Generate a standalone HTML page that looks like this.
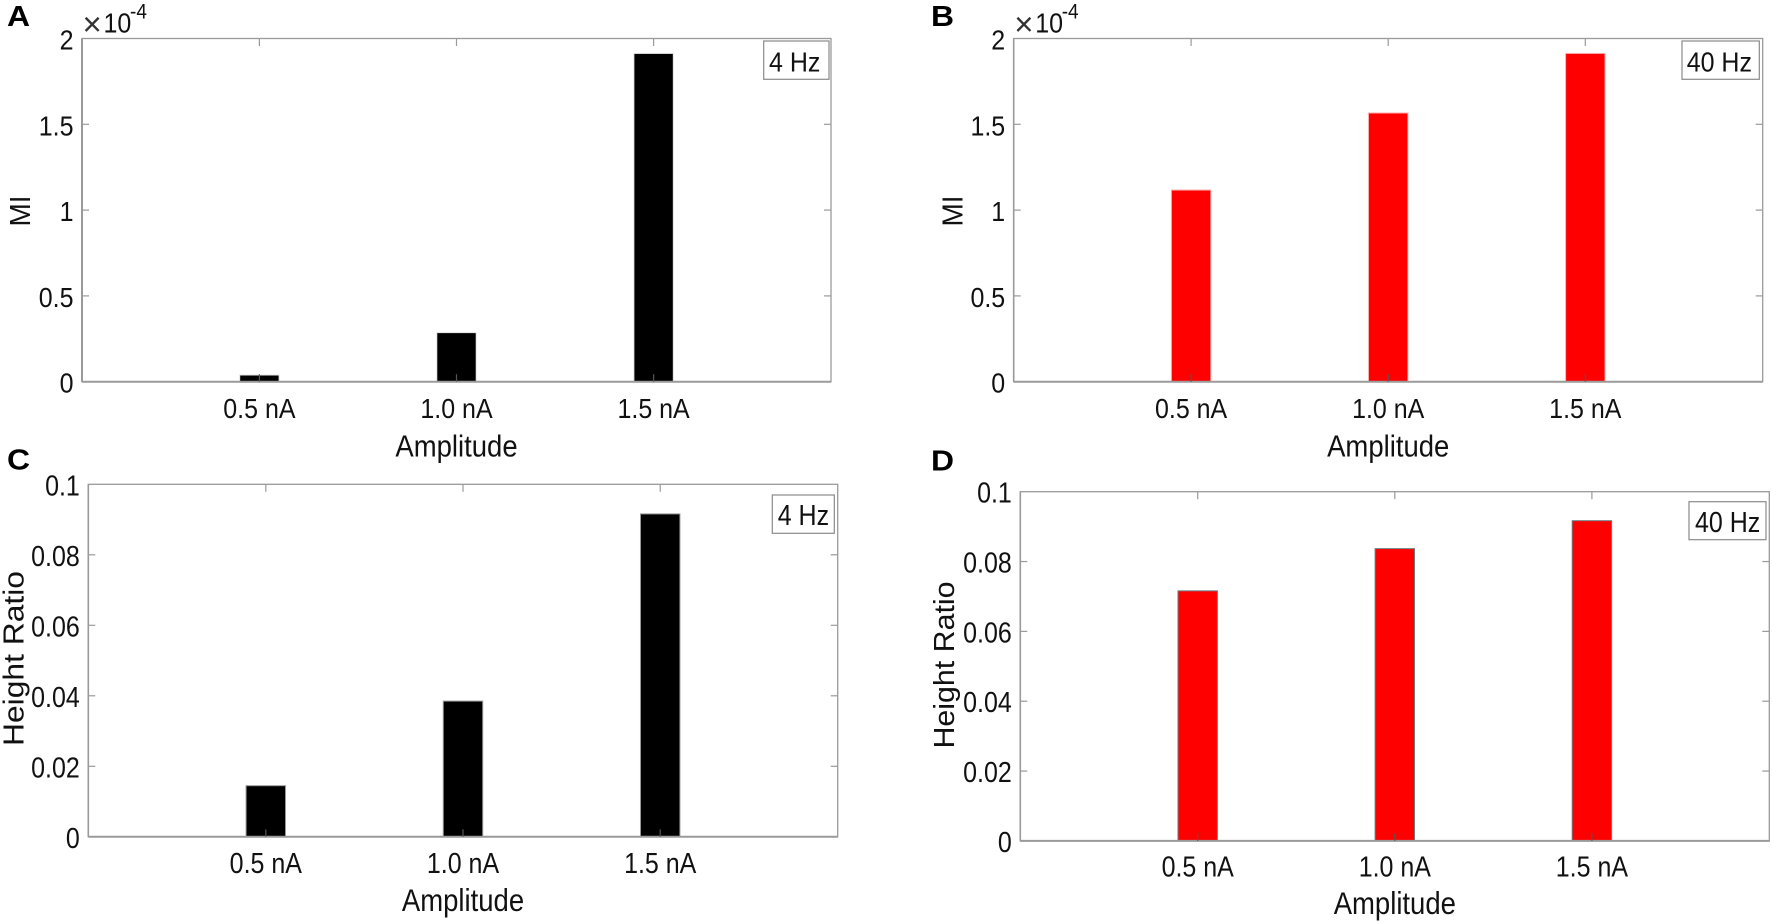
<!DOCTYPE html>
<html lang="en">
<head>
<meta charset="utf-8">
<title>MI and Height Ratio by stimulus amplitude</title>
<style>
  html, body { margin: 0; padding: 0; background: #fff; width: 1772px; height: 923px; overflow: hidden; }
  svg { display: block; }
  text { font-family: "Liberation Sans", Arial, sans-serif; fill: #111; }
</style>
</head>
<body>
<svg id="figure" width="1772" height="923" viewBox="0 0 1772 923" xmlns="http://www.w3.org/2000/svg">
  <rect x="0" y="0" width="1772" height="923" fill="#fff"/>
  <g id="panel-a"></g>
  <g id="panel-b"></g>
  <g id="panel-c"></g>
  <g id="panel-d"></g>
</svg>
<script>
// ---- chart data ----
const categories = ['0.5 nA', '1.0 nA', '1.5 nA'];
const miTicks = [0, 0.5, 1, 1.5, 2];
const miTickLabels = ['0', '0.5', '1', '1.5', '2'];
const ratioTicks = [0, 0.02, 0.04, 0.06, 0.08, 0.1];
const ratioTickLabels = ['0', '0.02', '0.04', '0.06', '0.08', '0.1'];
const mi4Hz = [0.039, 0.286, 1.913];
const mi40Hz = [1.117, 1.566, 1.913];
const ratio4Hz = [0.0145, 0.0385, 0.0916];
const ratio40Hz = [0.0716, 0.0837, 0.0917];
const categoryAxisMin = 0.1;
const categoryAxisMax = 3.9;

// ---- panel layout ----
const layoutA = { left: 82, right: 831, top: 38.5, bottom: 381.7, letterX: 7, letterY: 26, xTickBase: 418, xTitleBase: 456.7, yTitleX: 30, yTitleY: 211, yTitleLen: 31,
  legend: { x: 763.7, y: 41, w: 65.3, h: 38.3, tx: 769, ty: 71.3 }, barStroke: '#e4e4e4', axisW: 2, stretch: 1.1 };
const layoutB = { left: 1013.7, right: 1762.7, top: 38.5, bottom: 381.7, letterX: 931, letterY: 26, xTickBase: 418, xTitleBase: 456.7, yTitleX: 962.3, yTitleY: 211, yTitleLen: 31,
  legend: { x: 1682, y: 41, w: 77.3, h: 38.3, tx: 1686.7, ty: 71.3 }, barStroke: '#ffb0b0', axisW: 1.6, stretch: 1.1 };
const layoutC = { left: 88.3, right: 837.7, top: 484.3, bottom: 836.8, letterX: 7, letterY: 469.5, xTickBase: 873, xTitleBase: 911, yTitleX: 23.3, yTitleY: 658.5, yTitleLen: 175,
  legend: { x: 772.3, y: 495, w: 62, h: 38.3, tx: 777.7, ty: 525 }, barStroke: '#999', axisW: 1.6, stretch: 1.13 };
const layoutD = { left: 1020.3, right: 1769.3, top: 491.7, bottom: 840.9, letterX: 931, letterY: 470.5, xTickBase: 876.7, xTitleBase: 914, yTitleX: 954, yTitleY: 665, yTitleLen: 167,
  legend: { x: 1689, y: 501.7, w: 77, h: 38, tx: 1695, ty: 532 }, barStroke: '#6e7a80', axisW: 1.6, stretch: 1.13 };

const SVG_NS = 'http://www.w3.org/2000/svg';

function make(parent, tag, attrs, content) {
  const el = document.createElementNS(SVG_NS, tag);
  for (const key in attrs) el.setAttribute(key, attrs[key]);
  if (content !== undefined) el.textContent = content;
  parent.appendChild(el);
  return el;
}

// Text placed at a baseline and stretched to match the taller letterforms of the figure.
function stretchedText(parent, x, y, sx, sy, attrs, content) {
  const merged = Object.assign({ x: 0, y: 0, transform: 'translate(' + x + ',' + y + ') scale(' + sx + ',' + sy + ')' }, attrs);
  return make(parent, 'text', merged, content);
}

function xScale(layout, position) {
  return layout.left + (position - categoryAxisMin) / (categoryAxisMax - categoryAxisMin) * (layout.right - layout.left);
}

function yScale(layout, value, yMax) {
  return layout.bottom - value / yMax * (layout.bottom - layout.top);
}

function drawPanel(opts) {
  const root = document.getElementById(opts.id);
  const L = opts.layout;
  const yMax = opts.ticks[opts.ticks.length - 1];
  const barWidth = xScale(L, 1.2) - xScale(L, 1);
  const axisColor = '#9a9a9a';

  // bars
  opts.values.forEach(function (value, i) {
    const cx = xScale(L, i + 1);
    const yTop = yScale(L, value, yMax);
    const bar = make(root, 'rect', {
      x: cx - barWidth / 2, y: yTop, width: barWidth, height: L.bottom - yTop,
      fill: opts.color, stroke: L.barStroke, 'stroke-width': 1
    });
    
    
  });

  // plot frame
  const frame = make(root, 'rect', {
    x: L.left, y: L.top, width: L.right - L.left, height: L.bottom - L.top,
    fill: 'none', stroke: axisColor, 'stroke-width': 1.3
  });
  
  

  const yAxis = make(root, 'line', { x1: L.left, x2: L.left, y1: L.top, y2: L.bottom, stroke: axisColor, 'stroke-width': L.axisW });
  
  

  const xAxis = make(root, 'line', { x1: L.left, x2: L.right, y1: L.bottom, y2: L.bottom, stroke: axisColor, 'stroke-width': 2 });
  
  

  // y ticks and labels
  opts.ticks.forEach(function (tick, i) {
    const y = yScale(L, tick, yMax);
    if (tick !== 0 && tick !== yMax) {
      const tickLeft = make(root, 'line', { x1: L.left, x2: L.left + 7, y1: y, y2: y, stroke: axisColor, 'stroke-width': 1.2 });
      
      
      const tickRight = make(root, 'line', { x1: L.right - 7, x2: L.right, y1: y, y2: y, stroke: axisColor, 'stroke-width': 1.2 });
      
      
    }
    const label = stretchedText(root, L.left - 8.5, y + 11, 1, L.stretch, { 'text-anchor': 'end', 'font-size': 25 }, opts.tickLabels[i]);
    
    
  });

  // x ticks and labels
  categories.forEach(function (category, i) {
    const x = xScale(L, i + 1);
    const tickTop = make(root, 'line', { x1: x, x2: x, y1: L.top, y2: L.top + 7.5, stroke: axisColor, 'stroke-width': 1.2 });
    
    
    const tickBottom = make(root, 'line', { x1: x, x2: x, y1: L.bottom - 7.5, y2: L.bottom, stroke: '#555', 'stroke-width': 1.2 });
    
    
    const label = stretchedText(root, x, L.xTickBase, 1, L.stretch, { 'text-anchor': 'middle', 'font-size': 25 }, category);
    
    
  });

  // axis titles
  const xTitle = stretchedText(root, xScale(L, 2), L.xTitleBase, 1, L.stretch, { 'text-anchor': 'middle', 'font-size': 27.5 }, 'Amplitude');
  
  

  const yTitle = make(root, 'text', {
    x: 0, y: 0, 'text-anchor': 'middle', 'font-size': 29,
    textLength: L.yTitleLen, lengthAdjust: 'spacingAndGlyphs',
    transform: 'translate(' + L.yTitleX + ',' + L.yTitleY + ') rotate(-90)'
  }, opts.yTitle);
  
  

  // panel letter
  const letter = stretchedText(root, L.letterX, L.letterY, 1.1, 1, { 'font-size': 29, 'font-weight': 'bold', style: 'fill:#000' }, opts.letter);
  
  

  // frequency legend
  const legendBox = make(root, 'rect', {
    x: L.legend.x, y: L.legend.y, width: L.legend.w, height: L.legend.h,
    fill: '#fff', stroke: '#8a8a8a', 'stroke-width': 1.2
  });
  
  
  const legendText = stretchedText(root, L.legend.tx, L.legend.ty, 1, L.stretch, { 'font-size': 25 }, opts.legend);
  
  

  // axis exponent
  if (opts.exponent) {
    const times = make(root, 'text', { x: L.left + 0.5, y: 35.5, 'font-size': 33, style: 'fill:#333' }, '\u00D7');
    
    
    const base = stretchedText(root, L.left + 21.5, 32.5, 1, 1.1, { 'font-size': 25 }, '10');
    
    
    const power = stretchedText(root, L.left + 48, 18.5, 1, 1.1, { 'font-size': 19 }, opts.exponent);
    
    
  }
}

drawPanel({ id: 'panel-a', key: 'a', layout: layoutA, values: mi4Hz, ticks: miTicks, tickLabels: miTickLabels, color: '#000', yTitle: 'MI', letter: 'A', legend: '4 Hz', exponent: '-4' });
drawPanel({ id: 'panel-b', key: 'b', layout: layoutB, values: mi40Hz, ticks: miTicks, tickLabels: miTickLabels, color: '#ff0000', yTitle: 'MI', letter: 'B', legend: '40 Hz', exponent: '-4' });
drawPanel({ id: 'panel-c', key: 'c', layout: layoutC, values: ratio4Hz, ticks: ratioTicks, tickLabels: ratioTickLabels, color: '#000', yTitle: 'Height Ratio', letter: 'C', legend: '4 Hz' });
drawPanel({ id: 'panel-d', key: 'd', layout: layoutD, values: ratio40Hz, ticks: ratioTicks, tickLabels: ratioTickLabels, color: '#ff0000', yTitle: 'Height Ratio', letter: 'D', legend: '40 Hz' });
</script>
</body>
</html>
